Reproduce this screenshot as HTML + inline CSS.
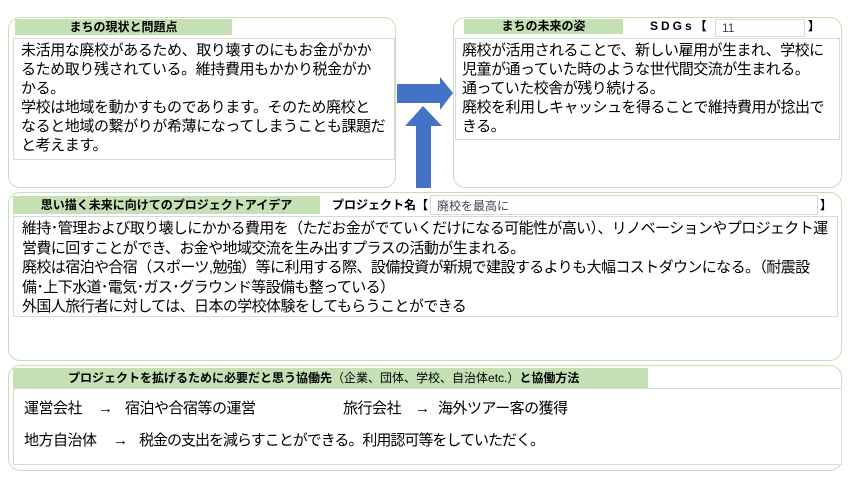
<!DOCTYPE html>
<html><head><meta charset="utf-8"><style>
body{margin:0;width:850px;height:484px;background:#fff;position:relative;overflow:hidden;font-family:"Liberation Sans","Noto Sans CJK JP",sans-serif;color:#000}
.b{position:absolute;border:1.5px solid #c5e0b4;border-radius:12px;box-sizing:border-box}
.h{position:absolute;background:#c5e0b4;font-size:12px;font-weight:bold;box-sizing:border-box;line-height:17px;white-space:nowrap}
.t{position:absolute;border:1px solid #d9d9d9;background:#fff;box-sizing:border-box;font-size:15px;line-height:19px;padding:2px 6px}
.l{position:absolute;font-size:12px;font-weight:bold;line-height:17px;white-space:nowrap}
.i{position:absolute;border:1px solid #d9d9d9;background:#fff;box-sizing:border-box;font-size:12px;color:#444;padding:1px 6px}
.r{position:absolute;font-size:15px;line-height:19px;white-space:nowrap;letter-spacing:-0.5px}
.n{display:block;white-space:nowrap}
</style></head><body>
<div class="b" style="left:8px;top:17px;width:388px;height:171px"></div>
<div class="h" style="left:15px;top:19px;width:217px;height:16px;text-align:center">まちの現状と問題点</div>
<div class="t" style="left:13px;top:38px;width:382px;height:122px;padding-left:7px;letter-spacing:-0.4px">
<span class="n">未活用な廃校があるため、取り壊すのにもお金がかか</span><span class="n">るため取り残されている。維持費用もかかり税金がか</span><span class="n">かる。</span><span class="n">学校は地域を動かすものであります。そのため廃校と</span><span class="n">なると地域の繋がりが希薄になってしまうことも課題だ</span><span class="n">と考えます。</span></div>

<div class="b" style="left:453px;top:17px;width:389px;height:171px"></div>
<div class="h" style="left:464px;top:19px;width:159px;height:15px;text-align:center;line-height:15px">まちの未来の姿</div>
<div class="l" style="left:650px;top:18px;letter-spacing:3px">SDGs【</div>
<div class="i" style="left:715px;top:19px;width:90px;height:18px">11</div>
<div class="l" style="left:808px;top:18px">】</div>
<div class="t" style="left:455px;top:38px;width:385px;height:102px;padding-left:6px;letter-spacing:-0.5px">
<span class="n">廃校が活用されることで、新しい雇用が生まれ、学校に</span><span class="n">児童が通っていた時のような世代間交流が生まれる。</span><span class="n">通っていた校舎が残り続ける。</span><span class="n">廃校を利用しキャッシュを得ることで維持費用が捻出で</span><span class="n">きる。</span></div>

<svg style="position:absolute;left:0;top:0" width="850" height="484">
<polygon points="397,84 440,84 440,77 453,93 440,110 440,103 397,103" fill="#4472c4"/>
<polygon points="423,106 442,126 431,126 431,188 416,188 416,126 405,126" fill="#4472c4"/>
</svg>

<div class="b" style="left:8px;top:192px;width:834px;height:169px"></div>
<div class="h" style="left:13px;top:196px;width:307px;height:18px;text-align:center;line-height:18px">思い描く未来に向けてのプロジェクトアイデア</div>
<div class="l" style="left:332px;top:197px">プロジェクト名【</div>
<div class="i" style="left:430px;top:195px;width:388px;height:20px">廃校を最高に</div>
<div class="l" style="left:820px;top:197px">】</div>
<div class="t" style="left:13px;top:216px;width:825px;height:101px;padding:2px 6px 0 8px;letter-spacing:-0.6px;line-height:19.5px;overflow:hidden">
<span class="n">維持･管理および取り壊しにかかる費用を（ただお金がでていくだけになる可能性が高い）、リノベーションやプロジェクト運</span><span class="n">営費に回すことができ、お金や地域交流を生み出すプラスの活動が生まれる。</span><span class="n">廃校は宿泊や合宿（スポーツ,勉強）等に利用する際、設備投資が新規で建設するよりも大幅コストダウンになる。（耐震設</span><span class="n">備･上下水道･電気･ガス･グラウンド等設備も整っている）</span><span class="n">外国人旅行者に対しては、日本の学校体験をしてもらうことができる</span></div>

<div class="b" style="left:8px;top:365px;width:834px;height:106px"></div>
<div class="h" style="left:13px;top:368px;width:635px;height:20px;line-height:20px;padding-left:55px">プロジェクトを拡げるために必要だと思う協働先<span style="font-weight:normal">（企業、団体、学校、自治体etc.）</span>と協働方法</div>
<div class="t" style="left:13px;top:388px;width:829px;height:77px"></div>
<div class="r" style="left:24px;top:399px">運営会社</div>
<div class="r" style="left:98px;top:399px">→</div>
<div class="r" style="left:125px;top:399px">宿泊や合宿等の運営</div>
<div class="r" style="left:343px;top:399px">旅行会社</div>
<div class="r" style="left:415px;top:399px">→</div>
<div class="r" style="left:438px;top:399px">海外ツアー客の獲得</div>
<div class="r" style="left:24px;top:431px">地方自治体</div>
<div class="r" style="left:113px;top:431px">→</div>
<div class="r" style="left:139px;top:431px;letter-spacing:-1px">税金の支出を減らすことができる。利用認可等をしていただく。</div>
</body></html>
